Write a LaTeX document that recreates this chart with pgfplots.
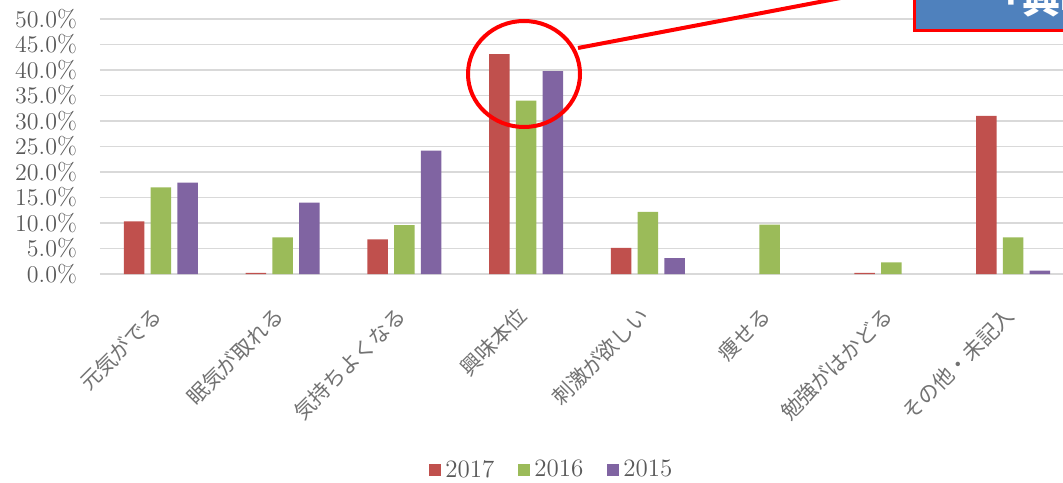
\documentclass[border=0pt]{standalone}
\usepackage{fontspec}
\usepackage{pgfplots}
\pgfplotsset{compat=1.18}
\newfontfamily\jp{Noto Sans CJK JP}
\definecolor{cR}{HTML}{C0504D}
\definecolor{cG}{HTML}{9BBB59}
\definecolor{cP}{HTML}{8064A2}
\definecolor{gridc}{HTML}{D9D9D9}
\definecolor{txt}{HTML}{595959}
\definecolor{boxblue}{HTML}{4F81BD}
\begin{document}
\begin{tikzpicture}
\path[use as bounding box, clip] (-50pt,-104pt) rectangle (481.5pt,137pt);
\begin{axis}[
  at={(0,0)}, anchor=south west,
  scale only axis, width=487pt, height=127.5pt,
  ybar=3.1pt, bar width=10.25pt,
  xmin=-0.5, xmax=7.5, ymin=0, ymax=50,
  ytick={0,5,10,15,20,25,30,35,40,45,50},
  xtick={0,1,2,3,4,5,6,7},
  xticklabels={元気がでる,眠気が取れる,気持ちよくなる,興味本位,刺激が欲しい,痩せる,勉強がはかどる,その他・未記入},
  ymajorgrids, grid style={gridc, line width=0.75pt},
  axis line style={draw=none}, major tick length=0,
  yticklabel={\pgfmathprintnumber[fixed,fixed zerofill,precision=1]{\tick}\%},
  yticklabel style={font=\fontsize{12.2}{13}\selectfont, text=txt, xshift=-8pt},
  xticklabel style={font=\jp\fontsize{10.5}{10.5}\selectfont, text=txt!85, xshift=1pt, yshift=-16.5pt, rotate=45, anchor=east},
  legend columns=3,
  legend style={at={(axis description cs:0.465,-0.769)}, anchor=center, draw=none, fill=none,
    font=\fontsize{12.5}{13}\selectfont, text=txt,
    /tikz/every even column/.append style={column sep=10pt}},
  legend image code/.code={\fill[#1] (0pt,-3pt) rectangle (6pt,3pt);},
]
\addplot[fill=cR, draw=none] coordinates {(0,10.3) (1,0.2) (2,6.8) (3,43.1) (4,5.1) (6,0.2) (7,31.0)};
\addplot[fill=cG, draw=none] coordinates {(0,17.0) (1,7.2) (2,9.6) (3,34.0) (4,12.2) (5,9.7) (6,2.3) (7,7.2)};
\addplot[fill=cP, draw=none] coordinates {(0,17.9) (1,14.0) (2,24.2) (3,39.8) (4,3.1) (7,0.65)};
\legend{2017,2016,2015}
\end{axis}
\begin{scope}[x=0.5pt,y=-0.5pt,shift={(-50pt,137pt)}]
\draw[red, line width=2pt] (524,74) ellipse [x radius=28pt, y radius=26.5pt];
\draw[red, line width=2pt] (578,48) -- (914,-16);
\draw[red, line width=1.5pt, fill=boxblue] (914.5,30.5) rectangle (1100,-80);
\node[anchor=base west, text=white, font=\jp\bfseries\fontsize{19}{19}\selectfont, inner sep=0] at (984,14) {「興味本位」};
\end{scope}
\end{tikzpicture}
\end{document}
